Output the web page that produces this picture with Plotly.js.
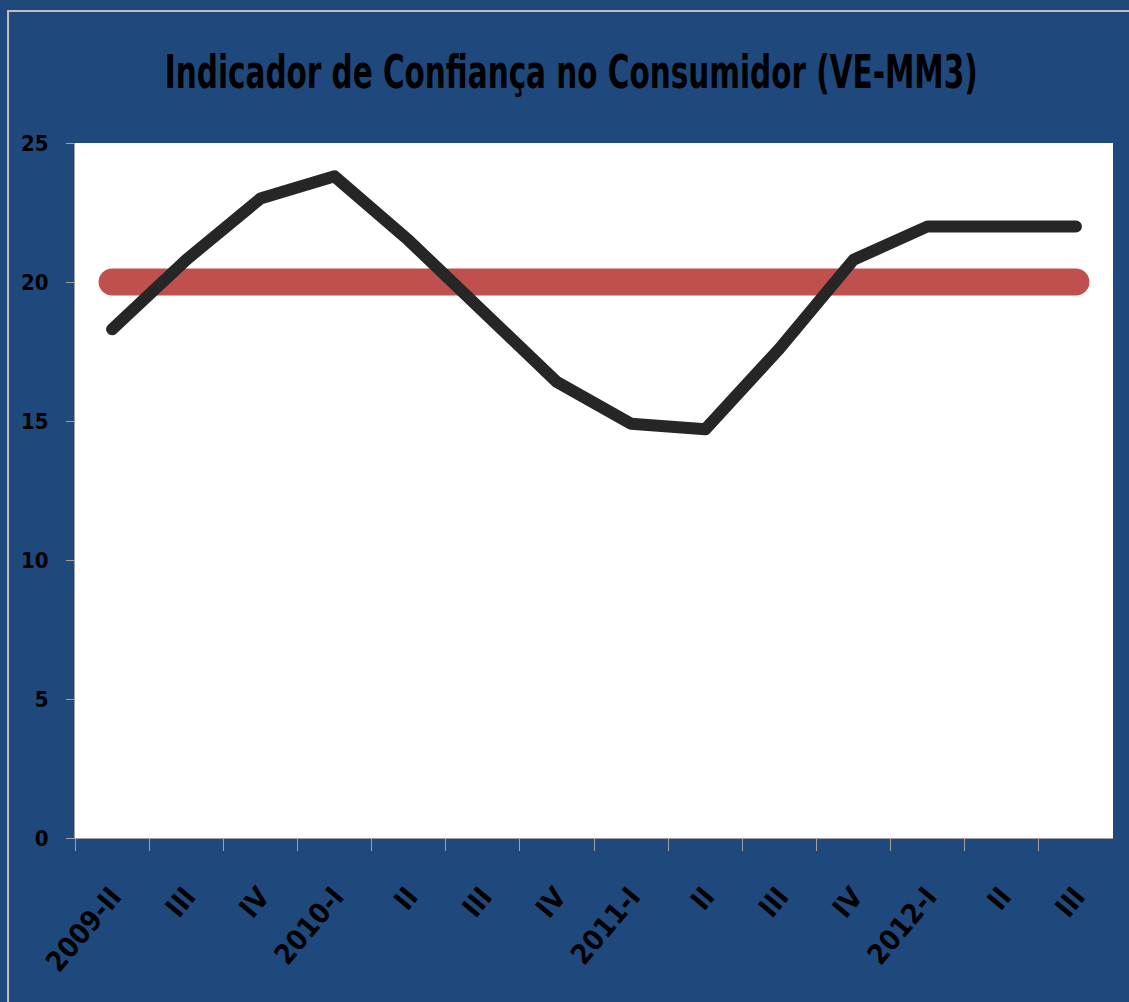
<!DOCTYPE html>
<html>
<head>
<meta charset="utf-8">
<script src="https://cdn.plot.ly/plotly-3.0.1.min.js"></script>
<style>
html,body{margin:0;padding:0;background:#1F497D;}
#chart{width:1129px;height:1002px;}
.scatterlayer .js-line{stroke-linecap:round !important;stroke-linejoin:round !important;}
</style>
</head>
<body>
<div id="chart"></div>
<script>
const categories = ["2009-II","III","IV","2010-I","II","III","IV","2011-I","II","III","IV","2012-I","II","III"];
const icc = [18.3, 20.8, 23.0, 23.8, 21.5, 18.9, 16.4, 14.9, 14.7, 17.6, 20.8, 22.0, 22.0, 22.0];
const reference = [20,20,20,20,20,20,20,20,20,20,20,20,20,20];
const yTicks = [0,5,10,15,20,25];
const titleText = 'Indicador de Confiança no Consumidor (VE-MM3)';

const xIdx = categories.map((c,i)=>i);
const fontFam = "'DejaVu Sans Condensed','DejaVu Sans',sans-serif";

const traces = [
  {x: xIdx, y: reference, type:'scatter', mode:'lines', line:{color:'#C0504D', width:27}, hoverinfo:'skip', showlegend:false},
  {x: xIdx, y: icc, type:'scatter', mode:'lines', line:{color:'#262626', width:12}, showlegend:false},
  {x:[0], y:[null], xaxis:'x2', yaxis:'y', type:'scatter', mode:'lines', showlegend:false, hoverinfo:'skip'}
];

const layout = {
  width:1129, height:1002,
  paper_bgcolor:'#1F497D', plot_bgcolor:'#FFFFFF',
  margin:{l:75, r:16, t:143, b:164},
  title:{text:titleText, x:0.506, xanchor:'center', y:0.929, yanchor:'middle',
         font:{family:fontFam, size:47, color:'#000000', weight:'bold'}},
  xaxis:{
    type:'linear', range:[-0.5, 13.5],
    tickmode:'array', tickvals:xIdx, ticktext:categories.map(c=>'<b>'+c+'</b>'),
    showgrid:false, zeroline:false, showline:true, linecolor:'#A0A0A0', linewidth:1,
    ticks:'', tickangle:-50, ticklabelstandoff:30,
    tickfont:{family:fontFam, size:28, color:'#000000'},
    fixedrange:true
  },
  xaxis2:{
    overlaying:'x', anchor:'y', range:[-0.5,13.5], tickmode:'array',
    tickvals:xIdx.concat([13]).map(i=>i-0.5), showticklabels:false,
    ticks:'outside', ticklen:12, tickcolor:'#A0A0A0', showgrid:false, zeroline:false, side:'bottom'
  },
  yaxis:{
    range:[0,25], tickmode:'array', tickvals:yTicks, ticktext:yTicks.map(v=>'<b>'+v+'</b>'),
    showgrid:false, zeroline:false, showline:true, linecolor:'#A0A0A0', linewidth:1,
    ticks:'outside', ticklen:8, tickcolor:'#A0A0A0', ticklabelstandoff:13,
    tickfont:{family:fontFam, size:22, color:'#000000'}, fixedrange:true
  },
  shapes:[
    {type:'rect', xref:'paper', yref:'paper', x0:-0.0645, x1:1.2, y0:-0.6, y1:1.19, line:{color:'#BFBFBF', width:2}, layer:'below'}
  ]
};

Plotly.newPlot('chart', traces, layout, {displayModeBar:false, staticPlot:true}).then(gd=>{
  const t = gd.querySelector('.gtitle');
  if (t) {
    const bb = t.getBBox();
    const sx = 813 / bb.width;
    t.style.transformBox = 'fill-box';
    t.style.transformOrigin = 'center';
    t.style.transform = 'scale(' + sx + ',1)';
  }
});
</script>
</body>
</html>
